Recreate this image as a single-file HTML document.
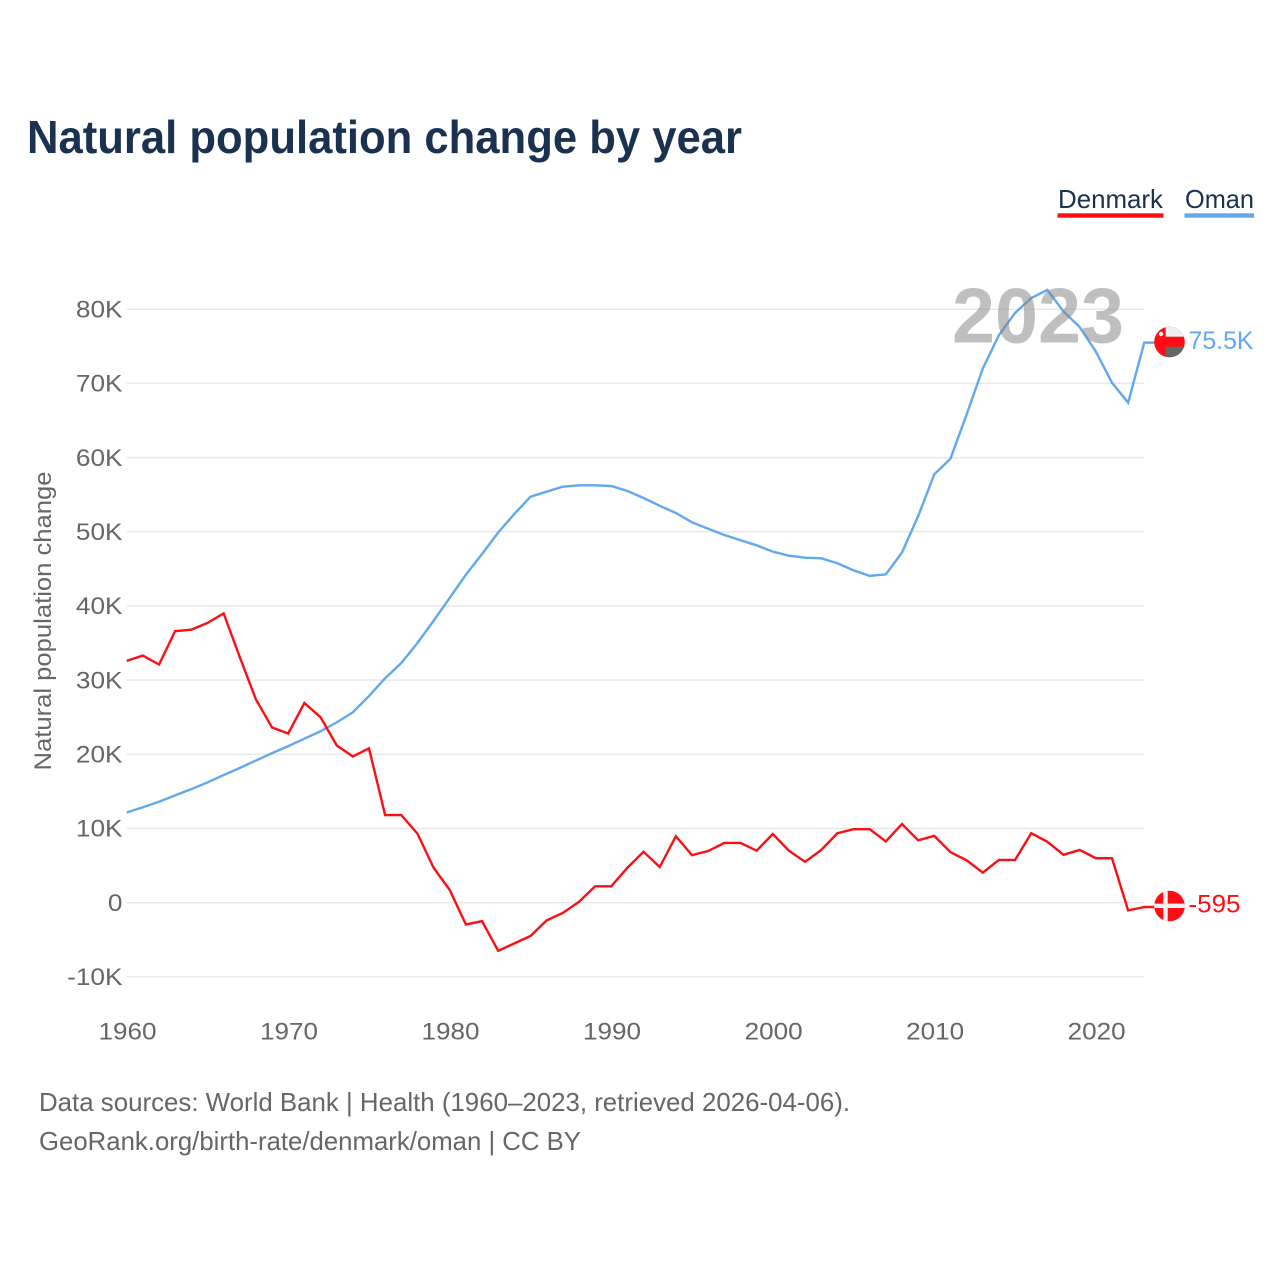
<!DOCTYPE html>
<html lang="en">
<head>
<meta charset="utf-8">
<title>Natural population change by year</title>
<style>
html,body{margin:0;padding:0;background:#fff;width:1280px;height:1280px;overflow:hidden}
svg{display:block}
text{font-family:"Liberation Sans",sans-serif}
</style>
</head>
<body>
<svg id="chart" xmlns="http://www.w3.org/2000/svg" width="1280" height="1280" viewBox="0 0 1280 1280">
  <defs>
    <clipPath id="clip-oman"><circle cx="1169.5" cy="342" r="15.3"/></clipPath>
    <clipPath id="clip-denmark"><circle cx="1169.5" cy="906" r="15.3"/></clipPath>
  </defs>
  <text x="27" y="153" font-size="46" font-weight="700" fill="#1a3150" textLength="715" lengthAdjust="spacingAndGlyphs">Natural population change by year</text>

  <g>
    <g>
      <text x="1058" y="208" font-size="26" fill="#1a3150" textLength="105" lengthAdjust="spacingAndGlyphs">Denmark</text>
      <rect x="1057.5" y="213.3" width="106" height="4.4" fill="#ff0d14"/>
    </g>
    <g>
      <text x="1185" y="208" font-size="26" fill="#1a3150" textLength="69" lengthAdjust="spacingAndGlyphs">Oman</text>
      <rect x="1184.5" y="213.3" width="69.5" height="4.4" fill="#62a8ee"/>
    </g>
  </g>

  <g id="grid"></g>
  <g id="y-ticks"></g>
  <g id="x-ticks"></g>
  <text transform="translate(51,621) rotate(-90)" text-anchor="middle" font-size="24.5" fill="#666" textLength="299" lengthAdjust="spacingAndGlyphs">Natural population change</text>

  <g id="series"></g>

  <text id="year-label" x="952" y="342.5" font-size="78" font-weight="700" fill="#808080" fill-opacity="0.5" textLength="172" lengthAdjust="spacingAndGlyphs">2023</text>

  <g id="oman-flag">
    <g clip-path="url(#clip-oman)">
      <rect x="1154" y="326" width="31" height="32" fill="#ff0d14"/>
      <rect x="1165.7" y="326" width="20" height="10.7" fill="#eeeeee"/>
      <rect x="1165.7" y="346.7" width="20" height="12" fill="#666666"/>
      <circle cx="1161" cy="334" r="2.2" fill="#ffffff"/>
    </g>
  </g>
  <g id="denmark-flag">
    <g clip-path="url(#clip-denmark)">
      <rect x="1154" y="890" width="31" height="32" fill="#ff0d14"/>
      <rect x="1163.3" y="890" width="4.4" height="32" fill="#f2f2f2"/>
      <rect x="1154" y="903.6" width="31" height="4.4" fill="#f2f2f2"/>
    </g>
  </g>
  <text id="oman-value" x="1188.5" y="349" font-size="25" fill="#62a8ee" textLength="65" lengthAdjust="spacingAndGlyphs"></text>
  <text id="denmark-value" x="1188.5" y="912.5" font-size="25" fill="#ff0d14" textLength="52" lengthAdjust="spacingAndGlyphs"></text>

  <g>
    <text x="39" y="1111" font-size="26" fill="#666" textLength="811" lengthAdjust="spacingAndGlyphs">Data sources: World Bank | Health (1960–2023, retrieved 2026-04-06).</text>
    <text x="39" y="1150" font-size="26" fill="#666" textLength="542" lengthAdjust="spacingAndGlyphs">GeoRank.org/birth-rate/denmark/oman | CC BY</text>
  </g>
</svg>
<script>
const years = [1960,1961,1962,1963,1964,1965,1966,1967,1968,1969,1970,1971,1972,1973,1974,1975,1976,1977,1978,1979,1980,1981,1982,1983,1984,1985,1986,1987,1988,1989,1990,1991,1992,1993,1994,1995,1996,1997,1998,1999,2000,2001,2002,2003,2004,2005,2006,2007,2008,2009,2010,2011,2012,2013,2014,2015,2016,2017,2018,2019,2020,2021,2022,2023];
const denmark = [32600,33300,32100,36600,36800,37700,39000,33100,27400,23600,22800,26900,25000,21200,19700,20800,11800,11800,9300,4700,1700,-2950,-2500,-6500,-5500,-4500,-2400,-1400,100,2200,2200,4700,6850,4800,8950,6400,6950,8050,8050,7000,9250,7000,5500,7100,9350,9900,9900,8250,10600,8400,9000,6800,5700,4050,5750,5750,9350,8200,6450,7100,5980,5980,-1050,-595];
const oman = [12150,12850,13600,14450,15300,16200,17200,18150,19150,20150,21100,22100,23100,24300,25650,27850,30250,32300,35000,38000,41100,44200,47000,49900,52400,54730,55400,56080,56260,56260,56170,55500,54550,53500,52530,51270,50400,49560,48850,48170,47320,46770,46500,46420,45750,44800,44050,44250,47200,52100,57750,59850,65800,72000,76500,79500,81500,82600,79700,77600,74300,70100,67400,75500];
const yTickValues = [-10000,0,10000,20000,30000,40000,50000,60000,70000,80000];
const yTickLabels = ["-10K","0","10K","20K","30K","40K","50K","60K","70K","80K"];
const xTickValues = [1960,1970,1980,1990,2000,2010,2020];
const endLabels = ["75.5K","-595"];

const NS = "http://www.w3.org/2000/svg";
function xScale(year){ return 126.7 + (year - 1960) * 16.152; }
function yScale(v){ return 902.6 - v * 0.007417; }
function make(tag, attrs){
  const el = document.createElementNS(NS, tag);
  for (const k in attrs) el.setAttribute(k, attrs[k]);
  return el;
}

const grid = document.getElementById("grid");
const yTicks = document.getElementById("y-ticks");
yTickValues.forEach(function(v, i){
  const line = make("line", {x1: xScale(1960), x2: xScale(2023), y1: yScale(v), y2: yScale(v), stroke: "#e8e8e8", "stroke-width": 1.5});
  
  
  grid.appendChild(line);
  const label = make("text", {x: 122.5, y: yScale(v) + 8.3, "text-anchor": "end", "font-size": 24.5, fill: "#666"});
  
  
  label.textContent = yTickLabels[i];
  yTicks.appendChild(label);
  const natural = label.getComputedTextLength();
  label.setAttribute("textLength", (natural * 1.07).toFixed(1));
  label.setAttribute("lengthAdjust", "spacingAndGlyphs");
});

const xTicks = document.getElementById("x-ticks");
xTickValues.forEach(function(y){
  const label = make("text", {x: xScale(y) + 0.8, y: 1039.5, "text-anchor": "middle", "font-size": 24.5, fill: "#666", textLength: 58, lengthAdjust: "spacingAndGlyphs"});
  
  
  label.textContent = y;
  xTicks.appendChild(label);
});

function drawSeries(values, color){
  let d = values.map(function(v, i){
    return (i ? "L" : "M") + xScale(years[i]).toFixed(2) + " " + yScale(v).toFixed(2);
  }).join(" ");
  d += " H 1156";
  return make("path", {d: d, fill: "none", stroke: color, "stroke-width": 2.4, "stroke-linejoin": "miter"});
}
const series = document.getElementById("series");
const omanLine = drawSeries(oman, "#62a8ee");


series.appendChild(omanLine);
const denmarkLine = drawSeries(denmark, "#ff0d14");


series.appendChild(denmarkLine);

document.getElementById("oman-value").textContent = endLabels[0];
document.getElementById("denmark-value").textContent = endLabels[1];
document.getElementById("year-label").textContent = years[years.length - 1];
</script>
</body>
</html>
